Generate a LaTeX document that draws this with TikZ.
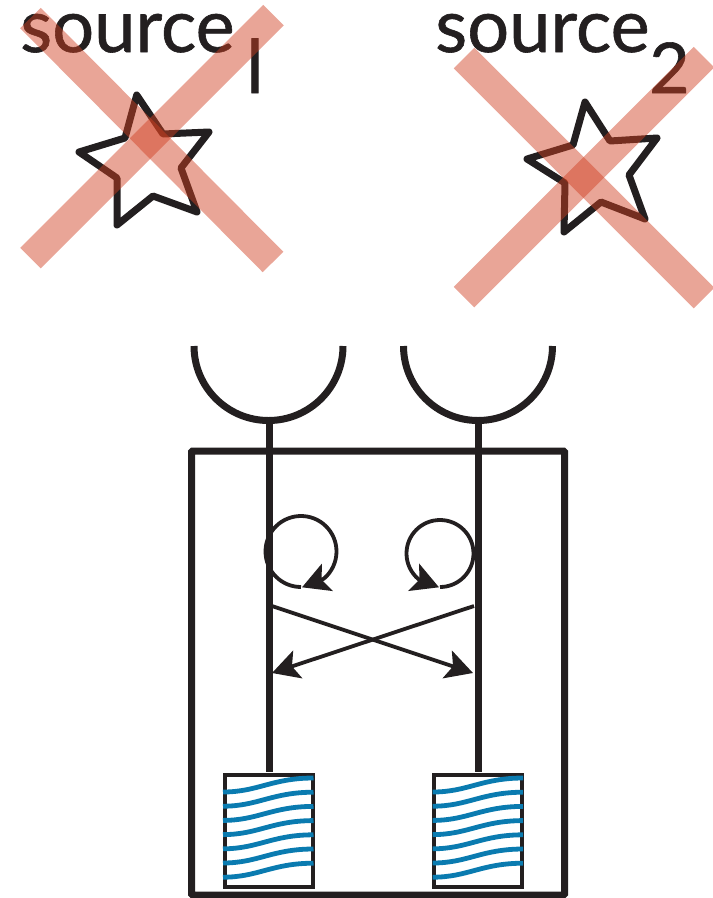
\documentclass[tikz,border=0pt]{standalone}
\usepackage{fontspec}
\setmainfont{Lato}
\usetikzlibrary{arrows.meta}
\newfontfamily\headfont{Lato}[FakeBold=0.8]
\definecolor{ink}{HTML}{231F20}
\definecolor{crossred}{RGB}{208,64,34}
\definecolor{wavec}{HTML}{0A7BB0}
\tikzset{
  x=1pt,y=-1pt,
  label text/.style={inner sep=0pt,anchor=base west,text=ink,font=\headfont\fontsize{74}{74}\selectfont},
  sub text/.style={inner sep=0pt,anchor=base west,text=ink,font=\headfont\fontsize{70}{70}\selectfont},
  starline/.style={draw=ink,line width=7pt,line join=round},
  crossband/.style={crossred,opacity=.47,line width=29pt,line cap=butt},
  heavy/.style={draw=ink,line width=7pt},
  detector/.style={draw=ink,line width=7pt},
  thinline/.style={draw=ink,line width=3.8pt},
  headed/.style={-{Stealth[length=27pt,width=29pt,inset=6pt]},fill=none},
  memory/.style={draw=ink,line width=4pt,fill=white,minimum width=88pt,minimum height=112pt,inner sep=0pt},
  wave/.style={wavec,line width=4.8pt},
}
\begin{document}
\begin{tikzpicture}
\useasboundingbox (0,0) rectangle (713,898);
\clip (0,0) rectangle (713,898);
% labels
\node[label text] (s1) at (20,52) {source};
\node[label text] (sub1) at (246,93) {l};
\node[label text] (s2) at (435,52) {source};
\node[sub text] (sub2) at (649,93) {2};
% stars
\draw[starline] (136.7,95)--(163,134)--(209,132)--(181,168)--(197,212)--(153,196)--(117,225)--(117,178)--(79,152)--(125,138)--cycle;
\draw[starline] (585,102)--(610,141)--(657,138)--(629,175)--(645,219)--(601,202)--(564,232)--(565,183)--(527,159)--(573,145)--cycle;
% crosses
\draw[crossband] (30.5,18)--(273,262);
\draw[crossband] (30.5,258)--(273.5,15);
\draw[crossband] (464,58)--(704,298);
\draw[crossband] (464,297)--(704,57);
% outer box
\draw[heavy,rounded corners=1pt] (191.5,451) rectangle (564.5,895);
% detectors
\coordinate (d1) at (269,420.5);
\coordinate (d2) at (478,420.5);
\draw[detector] (194,346) arc[start angle=180,end angle=360,radius=74.5pt];
\draw[detector] (403.5,346) arc[start angle=180,end angle=360,radius=74.5pt];
% memories
\node[memory] (m1) at (268.5,830.5) {};
\node[memory] (m2) at (478,830.5) {};
\draw[heavy] (d1) -- (269,771.5);
\draw[heavy] (d2) -- (478,771.5);
\foreach \ox in {0,209.7}{
  \foreach \oy in {0,14.2,28.4,42.6,56.8,71,85.2}{
    \draw[wave] (223+\ox,792+\oy) .. controls (258+\ox,792+\oy) and (272+\ox,778+\oy) .. (313.5+\ox,778+\oy);
  }
}
% self loops
\draw[thinline,headed] (301,587) arc[start angle=270,end angle=-50,radius=35.5pt] -- (302,587.3);
\draw[thinline,headed] (440,587) arc[start angle=270,end angle=590,radius=33.5pt] -- (439,587.3);
% crossing arrows
\coordinate (a1) at (272,606);
\coordinate (b1) at (473,673);
\coordinate (a2) at (474,606);
\coordinate (b2) at (272,673);
\draw[thinline,headed] (a1) -- (b1);
\draw[thinline,headed] (a2) -- (b2);
\end{tikzpicture}
\end{document}
